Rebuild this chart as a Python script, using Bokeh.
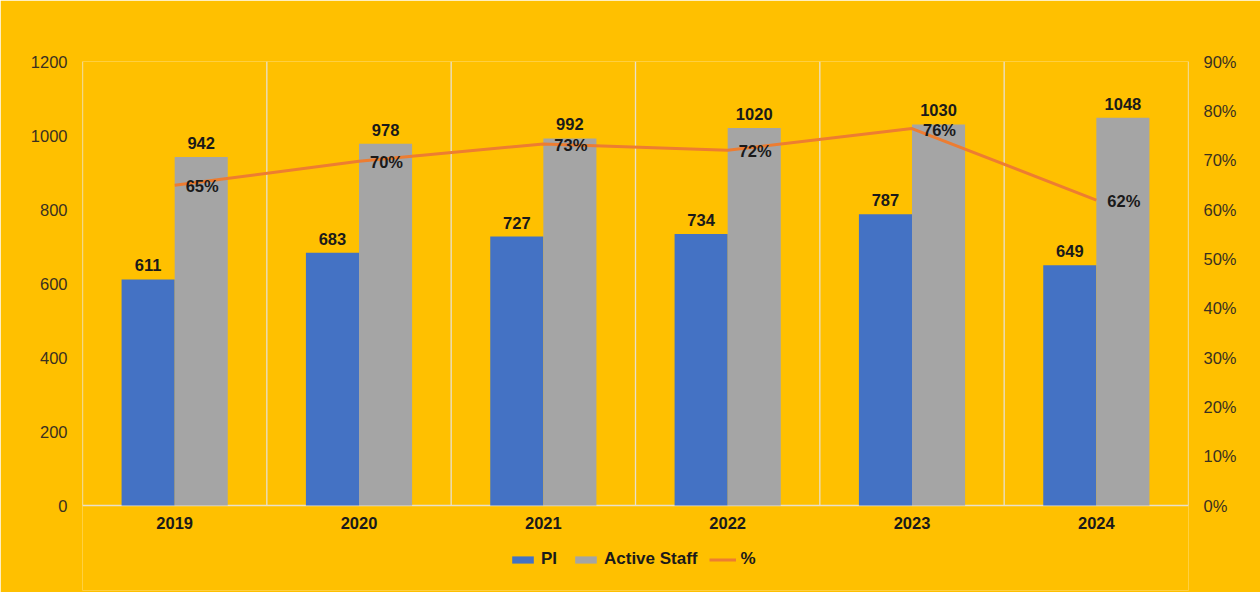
from bokeh.plotting import figure
from bokeh.models import (Range1d, LinearAxis, FixedTicker, NumeralTickFormatter,
                          Legend, LegendItem, ColumnDataSource)
from bokeh.core.properties import value
from bokeh.embed import file_html
from bokeh.resources import INLINE

years = ["2019", "2020", "2021", "2022", "2023", "2024"]
pi = [611, 683, 727, 734, 787, 649]
active_staff = [942, 978, 992, 1020, 1030, 1048]
pct = [0.649, 0.698, 0.733, 0.720, 0.764, 0.619]
pct_labels = ["65%", "70%", "73%", "72%", "76%", "62%"]

BG = "#FFC000"
BLUE = "#4472C4"
GRAY = "#A5A5A5"
ORANGE = "#ED7D31"
GRID = "#E8E0CC"
FONT = "Liberation Sans"
TXT = "#1a1a1a"
TICK_TXT = "#3a3020"

W, H = 1260, 592
FRAME_L, FRAME_R, FRAME_T, FRAME_B = 82, 1188, 61, 590
ZERO_Y = 505                      # screen y of value 0
YMAX = 1200
PMAX = 0.9
px_per_unit = (ZERO_Y - FRAME_T) / YMAX
y_low = -(FRAME_B - ZERO_Y) / px_per_unit

n = len(years)
w = 0.288
xc = [i + 0.5 for i in range(n)]
src = ColumnDataSource(dict(
    xc=xc,
    x_pi=[x - w / 2 for x in xc],
    x_st=[x + w / 2 for x in xc],
    pi=pi, st=active_staff, pct=pct,
    zero=[0] * n,
    years=years,
    pi_lab=[str(v) for v in pi],
    st_lab=[str(v) for v in active_staff],
    pct_lab=pct_labels,
))
bounds = list(range(n + 1))
gsrc = ColumnDataSource(dict(x=bounds, y0=[0] * len(bounds), y1=[YMAX] * len(bounds)))

p = figure(width=W, height=H, output_backend="svg", toolbar_location=None,
           x_range=Range1d(0, n), y_range=Range1d(y_low, YMAX),
           min_border_left=FRAME_L, min_border_right=W - FRAME_R,
           min_border_top=FRAME_T, min_border_bottom=H - FRAME_B)
p.extra_y_ranges = {"pct": Range1d(y_low * PMAX / YMAX, PMAX)}
p.background_fill_color = BG
p.border_fill_color = BG
p.outline_line_color = None
p.grid.visible = False
p.xaxis.visible = False

# vertical category separators and base line
p.segment(x0="x", y0="y0", x1="x", y1="y1", source=gsrc, line_color=GRID, line_width=1.3)
p.segment(x0=[0], y0=[0], x1=[n], y1=[0], line_color=GRID, line_width=1.3)

ya = p.yaxis[0]
ya.ticker = FixedTicker(ticks=[0, 200, 400, 600, 800, 1000, 1200])
ya.axis_line_color = None
ya.major_tick_line_color = None
ya.minor_tick_line_color = None
ya.major_tick_out = 0
ya.major_tick_in = 0
ya.major_label_standoff = 15
ya.major_label_text_font = FONT
ya.major_label_text_font_size = "16.5px"
ya.major_label_text_color = TICK_TXT

ra = LinearAxis(y_range_name="pct", ticker=FixedTicker(ticks=[i / 10 for i in range(10)]),
                formatter=NumeralTickFormatter(format="0%"))
ra.axis_line_color = None
ra.major_tick_line_color = None
ra.minor_tick_line_color = None
ra.major_tick_out = 0
ra.major_tick_in = 0
ra.major_label_standoff = 15
ra.major_label_text_font = FONT
ra.major_label_text_font_size = "16.5px"
ra.major_label_text_color = TICK_TXT
p.add_layout(ra, "right")

# bars
r_pi = p.vbar(x="x_pi", top="pi", width=w, source=src, fill_color=BLUE, line_color=None)
r_st = p.vbar(x="x_st", top="st", width=w, source=src, fill_color=GRAY, line_color=None)

# line
r_ln = p.line(x="xc", y="pct", source=src, y_range_name="pct", line_color=ORANGE, line_width=3)

# category labels
p.text(x="xc", y="zero", text="years", source=src, text_align="center", text_baseline="middle",
       y_offset=17, text_font=value(FONT), text_font_style="bold", text_font_size="16.5px",
       text_color=TXT)

# value labels
p.text(x="x_pi", y="pi", text="pi_lab", source=src, text_align="center", text_baseline="bottom",
       y_offset=-8, text_font=value(FONT), text_font_style="bold", text_font_size="16.5px",
       text_color=TXT)
p.text(x="x_st", y="st", text="st_lab", source=src, text_align="center", text_baseline="bottom",
       y_offset=-8, text_font=value(FONT), text_font_style="bold", text_font_size="16.5px",
       text_color=TXT)
p.text(x="xc", y="pct", text="pct_lab", source=src, y_range_name="pct", text_align="left",
       text_baseline="middle", x_offset=11, y_offset=1, text_font=value(FONT),
       text_font_style="bold", text_font_size="16.5px", text_color=TXT)

legend = Legend(items=[LegendItem(label="PI", renderers=[r_pi]),
                       LegendItem(label="Active Staff", renderers=[r_st]),
                       LegendItem(label="%", renderers=[r_ln])],
                orientation="horizontal", location=(427, 21),
                background_fill_alpha=0, border_line_color=None,
                label_text_font=FONT, label_text_font_style="bold",
                label_text_font_size="17px", label_text_color=TXT,
                glyph_width=27, glyph_height=9, spacing=11, label_standoff=5,
                padding=4, margin=0)
p.add_layout(legend, "center")

open("out.html", "w").write(file_html(p, INLINE))
